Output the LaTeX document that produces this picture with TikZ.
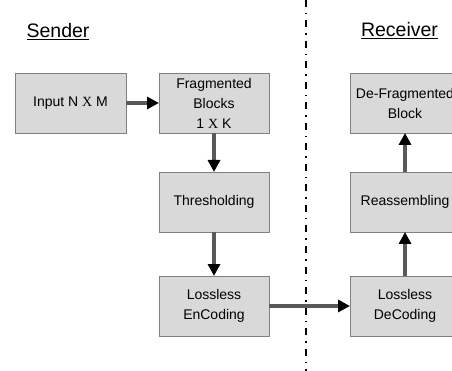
\documentclass[tikz,border=0pt]{standalone}
\usepackage{fontspec}
\setmainfont{Liberation Sans}
\newfontfamily\crossfont{Liberation Serif}
\usetikzlibrary{arrows.meta, positioning}

\begin{document}
\begin{tikzpicture}[
    x=1pt, y=1pt,
    node distance=33pt,
    block/.style={rectangle, draw=black!50, fill=black!15, line width=0.8pt, minimum width=110pt, minimum height=60pt, inner sep=0pt, outer sep=0pt, align=center, font=\fontsize{14}{20}\selectfont},
    title/.style={font=\fontsize{19.5}{22}\selectfont},
    arrow/.style={-{Triangle[length=12pt, width=12pt, color=black]}, line width=3.5pt, draw=black!65},
    divider/.style={line width=1.2pt, dash pattern=on 7pt off 6pt on 1.5pt off 6pt}
]
\useasboundingbox (0,0) rectangle (452,-371);

% Titles
\node (sender) at (58,-32) [title] {\underline{Sender}};
\node (receiver) at (399.5,-31) [title] {\underline{Receiver}};

% Divider between the two sides
\coordinate (top) at (306,0);
\coordinate (bottom) at (306,-371);
\draw [divider] (top) -- (bottom);

% Sender blocks
\node (input) at (70.5,-103) [block, minimum width=111pt] {Input N {\crossfont X} M};
\node (frag) [block, right=33pt of input] {Fragmented\\Blocks\\1 {\crossfont X} K};
\node (thresh) [block, below=39pt of frag] {Thresholding};
\node (enc) [block, below=44pt of thresh] {Lossless\\EnCoding};

% Receiver blocks
\node (dec) [block, right=81pt of enc] {Lossless\\DeCoding};
\node (reass) [block, above=44pt of dec] {Reassembling};
\node (defrag) [block, above=39pt of reass] {De-Fragmented\\Block};

% Connections
\draw [arrow] (input) -- (frag);
\draw [arrow] (frag) -- (thresh);
\draw [arrow] (thresh) -- (enc);
\draw [arrow] (enc) -- (dec);
\draw [arrow] (dec) -- (reass);
\draw [arrow] (reass) -- (defrag);

\end{tikzpicture}
\end{document}
